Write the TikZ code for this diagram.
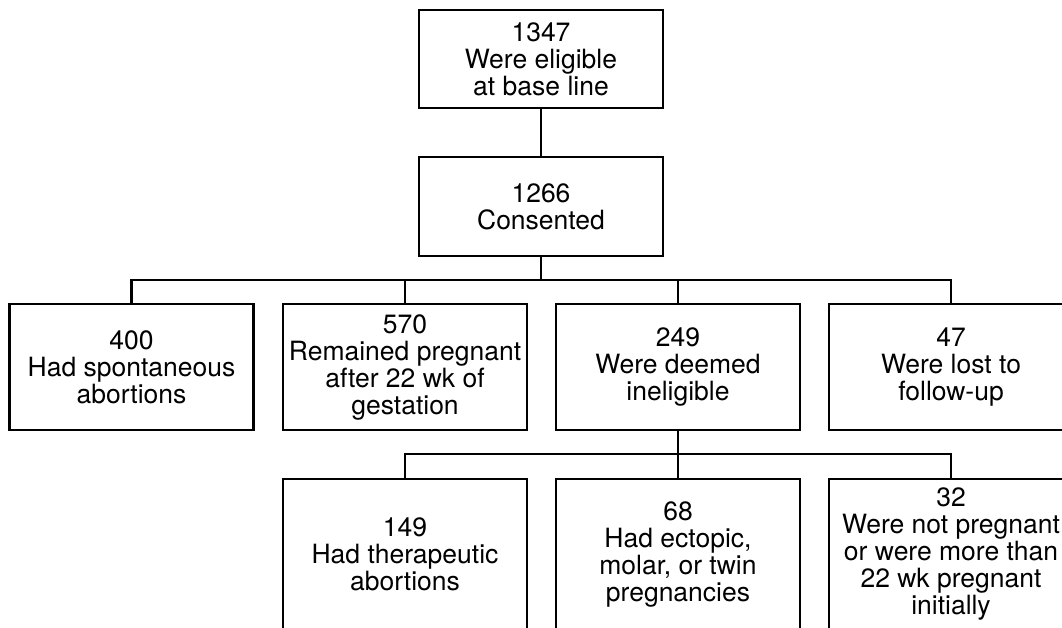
\documentclass[tikz,border=0pt]{standalone}
\usepackage{fontspec}
\setmainfont{TeX Gyre Heros}

\tikzset{
  box/.style={draw, line width=2.3pt, minimum width=244pt, inner sep=0pt, align=center,
    font=\fontsize{26.5}{27}\selectfont},
  link/.style={line width=2.3pt},
}

\begin{document}
\begin{tikzpicture}[x=1pt, y=-1pt]
\useasboundingbox (0,0) rectangle (1062,628);
\clip (0,0) rectangle (1062,628);

\node[box, minimum height=98pt] (elig) at (541,59) {1347\\Were eligible\\at base line};
\node[box, minimum height=99pt] (cons) at (541,206.5) {1266\\Consented};

% second row
\node[box, minimum height=126pt] (spont) at (131.5,367) {400\\Had spontaneous\\abortions};
\node[box, minimum height=126pt] (preg) at (405,367) {570\\Remained pregnant\\after 22 wk of\\gestation};
\node[box, minimum height=126pt] (inel) at (678,367) {249\\Were deemed\\ineligible};
\node[box, minimum height=126pt] (lost) at (951,367) {47\\Were lost to\\follow-up};

% third row
\node[box, minimum height=150pt] (thera) at (405,554) {149\\Had therapeutic\\abortions};
\node[box, minimum height=150pt] (ecto) at (678,554) {68\\Had ectopic,\\molar, or twin\\pregnancies};
\node[box, minimum height=150pt] (notpreg) at (951,554) {32\\Were not pregnant\\or were more than\\22 wk pregnant\\initially};

\coordinate (split) at (541,280);
\coordinate (split2) at (678,454);

\draw[link] (elig) -- (cons);
\draw[link] (cons) -- (split);
\draw[link] (spont.north) |- (split) -| (lost.north);
\foreach \n in {preg,inel} {
  \draw[link] (\n.north) -- (\n.north |- split);
};

\draw[link] (inel) -- (ecto);
\draw[link] (thera.north) |- (split2) -| (notpreg.north);

\end{tikzpicture}
\end{document}
